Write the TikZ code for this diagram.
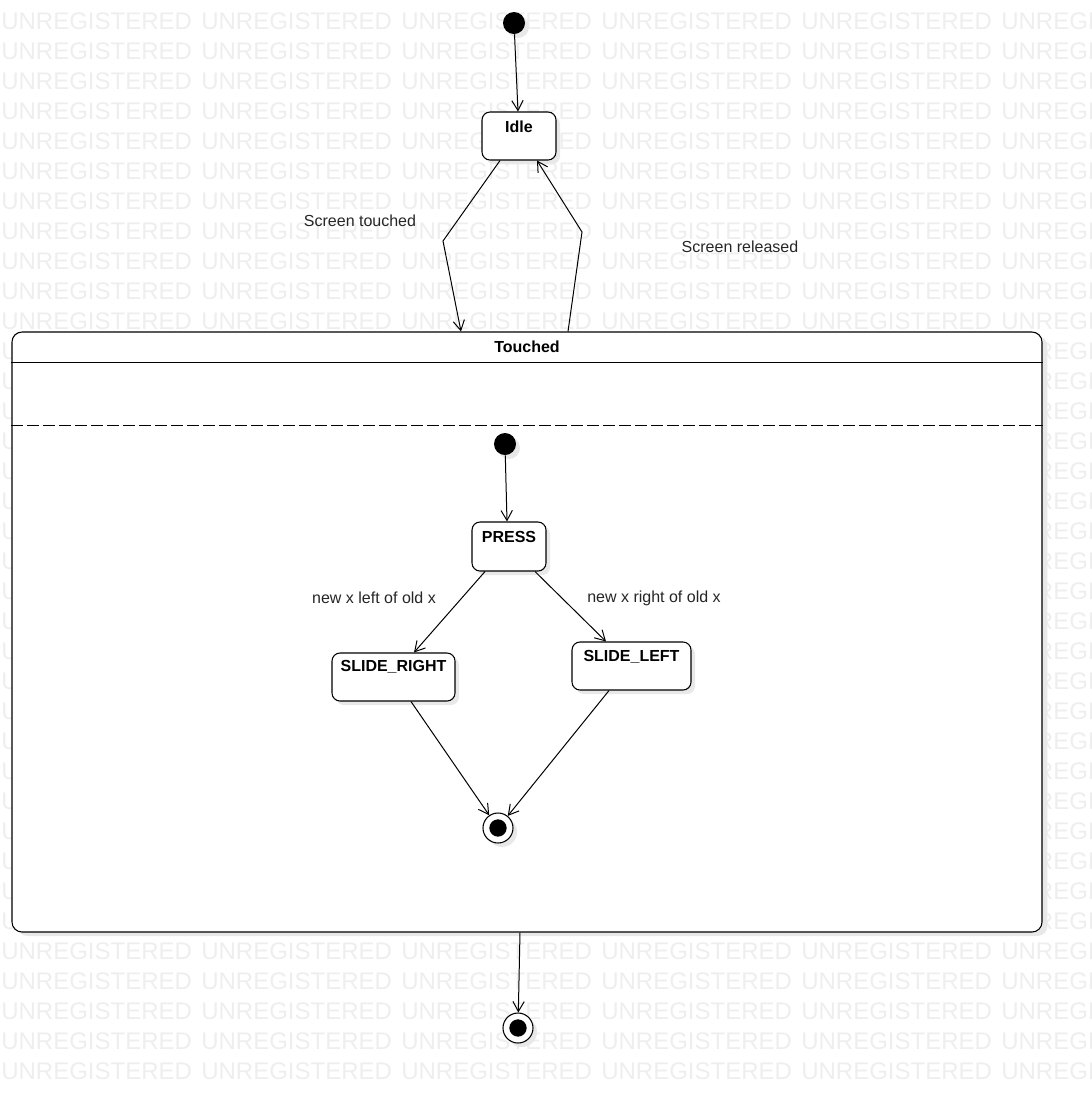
\documentclass[tikz,border=0pt]{standalone}
\usepackage{fontspec}
\setmainfont{Liberation Sans}
\usetikzlibrary{arrows.meta,shadows,calc}
\definecolor{wmgray}{RGB}{238,238,238}
\definecolor{shgray}{RGB}{232,232,232}
\tikzset{
  wm/.style={font=\fontsize{18pt}{18pt}\selectfont, text=wmgray, inner sep=0pt, anchor=base west},
  shad/.style={drop shadow={shadow xshift=3pt, shadow yshift=-3pt, fill=shgray, opacity=1}},
  statebox/.style={draw=black, line width=0.8pt, fill=white, rounded corners=6pt, shad, inner sep=0pt},
  stxt/.style={font=\fontsize{12pt}{14pt}\selectfont\bfseries, inner sep=0pt},
  lbl/.style={font=\fontsize{12pt}{14pt}\selectfont, text=black!85, inner sep=0pt},
  initst/.style={circle, fill=black, minimum size=16.5pt, inner sep=0pt, shad},
  finst/.style={circle, draw=black, line width=0.8pt, fill=white, minimum size=22.5pt, inner sep=0pt, shad,
     path picture={\fill[black] (path picture bounding box.center) circle (6.5pt);}},
  arr/.style={line width=0.75pt, -{Straight Barb[length=7.5pt,width=8.5pt]}},
}
\begin{document}
\begin{tikzpicture}[x=0.75pt,y=-0.75pt]
\useasboundingbox (0,0) rectangle (1092,1093);
% watermark
\begin{scope}
\clip (0,0) rectangle (1092,1093);
\foreach \r in {0,...,35}{
  \foreach \c in {0,...,5}{
    \node[wm] (wm-\r-\c) at ({\c*200+1},{29+\r*30}) {UNREGISTERED};
  }
}
\end{scope}

% top initial and Idle
\node[initst] (init) at (514,23) {};
\node[statebox, minimum width=55.5pt, minimum height=36pt] (idle) at (519,136) {};
\node[stxt] (idletxt) at (519,127) {Idle};

% Touched composite state
\node[draw=black, line width=0.8pt, fill=white, rounded corners=7.5pt, minimum width=772.5pt, minimum height=450pt,
      inner sep=0pt, drop shadow={shadow xshift=4pt, shadow yshift=-3pt, fill=shgray, opacity=1}] (touched) at (527,632) {};
\node[stxt] (touchedtxt) at (527,347) {Touched};
\draw[line width=0.8pt] ($(touched.north west)+(0,31)$) -- ($(touched.north east)+(0,31)$);
\draw[line width=0.8pt, dash pattern=on 9pt off 3pt] ($(touched.north west)+(0,94)$) -- ($(touched.north east)+(0,94)$);

% inner states
\node[initst] (init2) at (505,444) {};
\node[statebox, minimum width=55.5pt, minimum height=36.75pt] (press) at (509,546.5) {};
\node[stxt] (presstxt) at (509,537) {PRESS};
\node[statebox, minimum width=92.25pt, minimum height=36pt] (sr) at (393.5,677) {};
\node[stxt] (srtxt) at (393.5,667) {SLIDE\_RIGHT};
\node[statebox, minimum width=89.25pt, minimum height=36pt] (sl) at (631.5,666) {};
\node[stxt] (sltxt) at (631.5,657) {SLIDE\_LEFT};
\node[finst] (fin1) at (498,828) {};

% outer final
\node[finst] (fin2) at (518,1028) {};

% connectors
\draw[arr] (init) -- ($(idle.north)+(-1,0)$);
\draw[arr] ($(idle.south)+(-19,0)$) -- (443,241) -- ($(touched.north)+(-66,0)$);
\draw[arr] ($(touched.north)+(41,0)$) -- (582,232) -- ($(idle.south)+(18,0)$);
\draw[arr] (init2) -- ($(press.north)+(-2,0)$);
\draw[arr] ($(press.south)+(-24,0)$) -- ($(sr.north)+(20.5,0)$);
\draw[arr] ($(press.south)+(26,0)$) -- ($(sl.north)+(-25.5,0)$);
\draw[arr] ($(sr.south)+(17.5,0)$) -- (fin1);
\draw[arr] ($(sl.south)+(-22.5,0)$) -- (fin1);
\draw[arr] ($(touched.south)+(-7,0)$) -- (fin2);

% labels
\node[lbl] (lst) at (360,221) {Screen touched};
\node[lbl] (lsr) at (740,247) {Screen released};
\node[lbl] (lleft) at (374,598) {new x left of old x};
\node[lbl] (lright) at (654,598) {new x right of old x};
\end{tikzpicture}
\end{document}
